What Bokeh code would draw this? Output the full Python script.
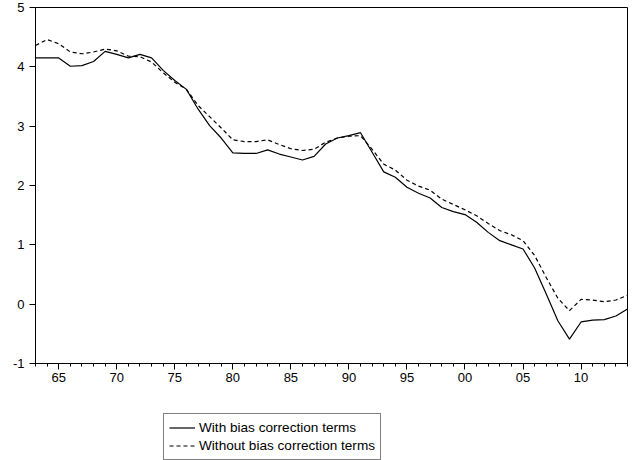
from bokeh.plotting import figure
from bokeh.layouts import column
from bokeh.models import Range1d, FixedTicker, Legend, LegendItem
from bokeh.embed import file_html
from bokeh.resources import INLINE

years = list(range(1963, 2015))
with_bias = [4.15, 4.15, 4.15, 4.01, 4.02, 4.09, 4.26, 4.21, 4.15, 4.21,
             4.15, 3.94, 3.77, 3.62, 3.29, 3.01, 2.80, 2.55, 2.54, 2.54,
             2.60, 2.53, 2.48, 2.43, 2.49, 2.70, 2.80, 2.84, 2.89, 2.56,
             2.23, 2.14, 1.97, 1.87, 1.79, 1.63, 1.56, 1.51, 1.38, 1.21,
             1.07, 1.00, 0.93, 0.61, 0.17, -0.28, -0.59, -0.30, -0.27, -0.26,
             -0.20, -0.08]
without_bias = [4.36, 4.46, 4.39, 4.25, 4.22, 4.25, 4.30, 4.27, 4.18, 4.17,
                4.08, 3.90, 3.74, 3.62, 3.35, 3.16, 2.97, 2.77, 2.74, 2.74,
                2.77, 2.69, 2.62, 2.59, 2.61, 2.73, 2.80, 2.83, 2.84, 2.61,
                2.36, 2.26, 2.09, 1.99, 1.92, 1.77, 1.68, 1.59, 1.49, 1.36,
                1.24, 1.17, 1.07, 0.82, 0.45, 0.10, -0.11, 0.08, 0.07, 0.04,
                0.07, 0.15]
x_ticks = [1965, 1970, 1975, 1980, 1985, 1990, 1995, 2000, 2005, 2010]
x_tick_labels = ["65", "70", "75", "80", "85", "90", "95", "00", "05", "10"]
y_ticks = [-1, 0, 1, 2, 3, 4, 5]
legend_labels = ["With bias correction terms", "Without bias correction terms"]

FONT = "Liberation Sans"
DASH = "4 3"

p = figure(width=632, height=395, output_backend="svg", toolbar_location=None,
           x_range=Range1d(1963, 2014), y_range=Range1d(-1, 5),
           min_border_left=35, min_border_right=5, min_border_top=7,
           min_border_bottom=32)
p.background_fill_color = "white"
p.border_fill_color = "white"
p.outline_line_color = "black"
p.outline_line_width = 1
p.xgrid.visible = False
p.ygrid.visible = False

p.line(years, with_bias, line_color="black", line_width=1.2)
p.line(years, without_bias, line_color="black", line_width=1.2,
       line_dash=DASH)

xa = p.xaxis[0]
xa.ticker = FixedTicker(ticks=x_ticks, minor_ticks=years)
xa.major_label_overrides = {t: l for t, l in zip(x_ticks, x_tick_labels)}
ya = p.yaxis[0]
ya.ticker = FixedTicker(ticks=y_ticks, minor_ticks=[])
ya.major_label_overrides = {t: str(t) for t in y_ticks}
for ax in (xa, ya):
    ax.axis_line_color = "black"
    ax.axis_line_width = 1
    ax.major_tick_line_color = "black"
    ax.minor_tick_line_color = "black"
    ax.major_tick_out = 6
    ax.major_tick_in = 0
    ax.minor_tick_out = 3
    ax.minor_tick_in = 0
    ax.major_label_text_font = FONT
    ax.major_label_text_font_size = "13px"
    ax.major_label_text_color = "black"
xa.major_label_standoff = 3
ya.major_label_standoff = 5

# legend panel below the chart (sample lines sit outside its visible range)
q = figure(width=632, height=65, output_backend="svg", toolbar_location=None,
           x_axis_type=None, y_axis_type=None,
           x_range=Range1d(0, 1), y_range=Range1d(0, 1), min_border=0)
q.outline_line_color = None
q.xgrid.visible = False
q.ygrid.visible = False
q.background_fill_color = "white"
q.border_fill_color = "white"
l1 = q.line([5, 6], [5, 6], line_color="black", line_width=1.2)
l2 = q.line([5, 6], [5, 6], line_color="black", line_width=1.2, line_dash=DASH)

legend = Legend(items=[LegendItem(label=legend_labels[0], renderers=[l1]),
                       LegendItem(label=legend_labels[1], renderers=[l2])],
                location=(128, 0))
legend.border_line_color = "black"
legend.border_line_width = 1
legend.background_fill_alpha = 1
legend.label_text_font = FONT
legend.label_text_font_size = "13.6px"
legend.label_text_color = "black"
legend.glyph_width = 26
legend.glyph_height = 17
legend.label_height = 17
legend.spacing = 1
legend.padding = 5
legend.margin = 0
legend.label_standoff = 4
q.add_layout(legend, "center")

layout = column(p, q, spacing=0)
open("out.html", "w").write(file_html(layout, INLINE))
